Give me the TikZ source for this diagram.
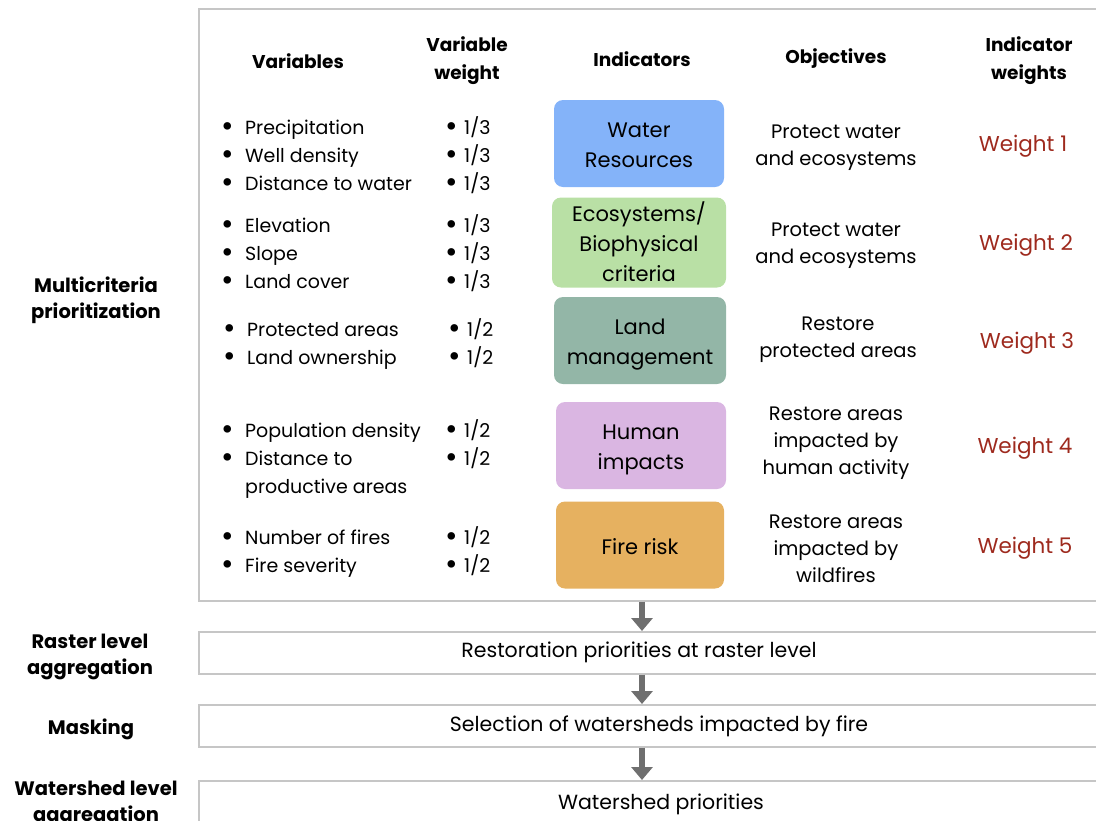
\documentclass[tikz,border=0pt]{standalone}
\usepackage{fontspec}
\usepackage{graphicx}
\setmainfont{Poppins}
\usetikzlibrary{arrows.meta}
\definecolor{framegray}{HTML}{C6C6C6}
\definecolor{arrowgray}{HTML}{6F6F6F}
\definecolor{wred}{HTML}{9E2A1E}
\definecolor{cblue}{HTML}{84B3F9}
\definecolor{cgreen}{HTML}{B9E0A5}
\definecolor{cteal}{HTML}{93B6A7}
\definecolor{cpurple}{HTML}{DAB6E2}
\definecolor{corange}{HTML}{E6B160}
\newcommand\bul{\raisebox{-2.4pt}{\scalebox{1.6}{•}}}
\newcommand\vb[1]{\makebox[24pt][l]{\bul}#1}
\newcommand\wb[1]{\makebox[19pt][l]{\bul}#1}
\newcommand\lowr[1]{\raisebox{-3pt}[\height][\depth]{\begin{tabular}{@{}c@{}}#1\end{tabular}}}
\begin{document}
\begin{tikzpicture}[x=1pt,y=-1pt,
  txt/.style={font=\fontsize{19}{28}\selectfont, inner sep=0pt, anchor=base west},
  hdr/.style={font=\fontsize{18.5}{28}\selectfont\bfseries, align=center, inner sep=0pt},
  obj/.style={font=\fontsize{19.5}{27}\selectfont, align=center, inner sep=0pt},
  btm/.style={font=\fontsize{20.5}{27}\selectfont, inner sep=0pt},
  side/.style={font=\fontsize{19.5}{26}\selectfont\bfseries, align=center, inner sep=0pt},
  ind/.style={rounded corners=9pt, minimum width=170pt, minimum height=87pt, align=center,
    font=\fontsize{21}{30}\selectfont, inner sep=0pt},
  wt/.style={font=\fontsize{21.5}{28}\selectfont, text=wred, inner sep=0pt},
  frame/.style={draw=framegray, line width=1.6pt, inner sep=0pt, anchor=north west, minimum width=902pt},
  flow/.style={draw=arrowgray, line width=6pt, -{Triangle[width=21pt,length=13pt]}}
]
\useasboundingbox (0,0) rectangle (1096,820);

% frames
\node[frame, minimum height=592pt] (main) at (198,8) {};
\node[frame, minimum height=42pt] (b1) at (198,631) {};
\node[frame, minimum height=42pt] (b2) at (198,704) {};
\node[frame, minimum height=60pt] (b3) at (198,780) {};

% headers
\node[hdr] (hvar) at (298,61) {Variables};
\node[hdr] (hvw) at (467,61) {Variable\\weight};
\node[hdr] (hind) at (642,59) {Indicators};
\node[hdr] (hobj) at (836,59) {Objectives};
\node[hdr] (hiw) at (1029,61) {Indicator\\weights};

% variables
\node[txt] (v1) at (221,134) {\vb{Precipitation}};
\node[txt] (v2) at (221,162) {\vb{Well density}};
\node[txt] (v3) at (221,190) {\vb{Distance to water}};
\node[txt] (v4) at (221,232) {\vb{Elevation}};
\node[txt] (v5) at (221,260) {\vb{Slope}};
\node[txt] (v6) at (221,288) {\vb{Land cover}};
\node[txt] (v7) at (223,336) {\vb{Protected areas}};
\node[txt] (v8) at (223,364) {\vb{Land ownership}};
\node[txt] (v9) at (221,437) {\vb{Population density}};
\node[txt] (v10) at (221,465) {\vb{Distance to}};
\node[txt] (v10b) at (245,493) {productive areas};
\node[txt] (v11) at (221,544) {\vb{Number of fires}};
\node[txt] (v12) at (221,572) {\vb{Fire severity}};

% variable weights
\node[txt] (w1) at (445,134) {\wb{1/3}};
\node[txt] (w2) at (445,162) {\wb{1/3}};
\node[txt] (w3) at (445,190) {\wb{1/3}};
\node[txt] (w4) at (445,232) {\wb{1/3}};
\node[txt] (w5) at (445,260) {\wb{1/3}};
\node[txt] (w6) at (445,288) {\wb{1/3}};
\node[txt] (w7) at (448,336) {\wb{1/2}};
\node[txt] (w8) at (448,364) {\wb{1/2}};
\node[txt] (w9) at (445,437) {\wb{1/2}};
\node[txt] (w10) at (445,465) {\wb{1/2}};
\node[txt] (w11) at (445,544) {\wb{1/2}};
\node[txt] (w12) at (445,572) {\wb{1/2}};

% indicators
\node[ind, fill=cblue] (i1) at (639,143.5) {\lowr{Water\\Resources}};
\node[ind, fill=cgreen, minimum width=174pt] (i2) at (639,242.5) {\lowr{Ecosystems/\\Biophysical\\criteria}};
\node[ind, fill=cteal, minimum width=172pt] (i3) at (640,340.5) {\lowr{Land\\management}};
\node[ind, fill=cpurple] (i4) at (641,445.5) {\lowr{Human\\impacts}};
\node[ind, fill=corange, minimum width=168pt] (i5) at (640,545) {\lowr{Fire risk}};

% objectives
\node[obj] (o1) at (836,147.5) {Protect water\\and ecosystems};
\node[obj] (o2) at (836,245.5) {Protect water\\and ecosystems};
\node[obj] (o3) at (838,339.5) {Restore\\protected areas};
\node[obj] (o4) at (836,443) {Restore areas\\impacted by\\human activity};
\node[obj] (o5) at (836,549) {Restore areas\\impacted by\\wildfires};

% indicator weights
\node[wt] (iw1) at (1023,146) {Weight 1};
\node[wt] (iw2) at (1026,245) {Weight 2};
\node[wt] (iw3) at (1027,343) {Weight 3};
\node[wt] (iw4) at (1025,448) {Weight 4};
\node[wt] (iw5) at (1025,548) {Weight 5};

% side labels
\node[side] (s1) at (96,300) {Multicriteria\\prioritization};
\node[side] (s2) at (90,657) {Raster level\\aggregation};
\node[side] (s3) at (91,729) {Masking};
\node[side] (s4) at (96,804) {Watershed level\\aggregation};

% bottom texts
\node[btm] (t1) at (639,652) {Restoration priorities at raster level};
\node[btm] (t2) at (659,726) {Selection of watersheds impacted by fire};
\node[btm] (t3) at (661,804) {Watershed priorities};

% arrows
\coordinate (ax) at (642,0);
\draw[flow] (main.south -| ax) -- (b1.north -| ax);
\draw[flow] (b1.south -| ax) -- (b2.north -| ax);
\draw[flow] (b2.south -| ax) -- (b3.north -| ax);
\end{tikzpicture}
\end{document}
